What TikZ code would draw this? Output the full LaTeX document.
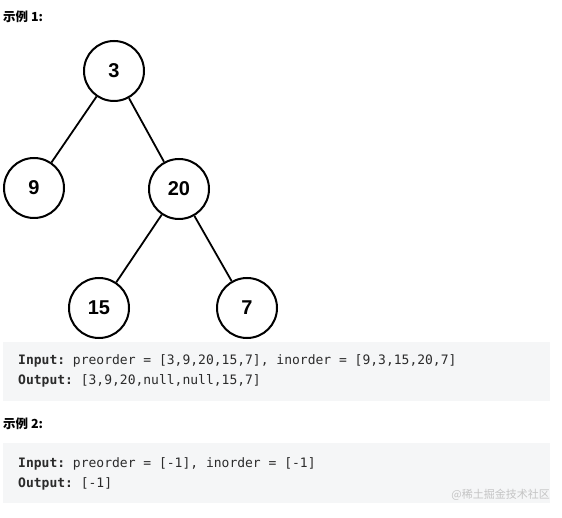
\documentclass[tikz,border=0pt]{standalone}
\usepackage{fontspec}
\setmainfont{Liberation Sans}
\setmonofont{DejaVu Sans Mono}
\newfontfamily\cjk{Noto Sans CJK SC}
\usetikzlibrary{positioning}
\definecolor{codebg}{HTML}{F5F6F7}
\definecolor{codetxt}{HTML}{2B2B2B}
\definecolor{wmark}{HTML}{C4C4C4}
\newcommand{\IOline}[2]{\textbf{#1:} #2}

\begin{document}
\begin{tikzpicture}[x=1pt,y=-1pt,
    treenode/.style={draw,circle,line width=2pt,minimum size=60pt,inner sep=0pt,
      font=\fontsize{20}{24}\selectfont\bfseries},
    treeedge/.style={line width=1.8pt},
    caption/.style={anchor=west,inner sep=0pt,font=\cjk\fontsize{12.5}{15}\selectfont\bfseries},
    codeline/.style={anchor=west,inner sep=0pt,text=codetxt,font=\ttfamily\fontsize{13}{15}\selectfont}]
  \fill[white] (0,0) rectangle (562,518);
  \useasboundingbox (0,0) rectangle (562,518);
  % example 1
  \node[caption] (cap1) at (3,17){示例 1:};
  \node[treenode] (n3) at (114,71){3};
  \node[treenode] (n9) at (34,188){9};
  \node[treenode] (n20) at (179,189){20};
  \node[treenode] (n15) at (99,308){15};
  \node[treenode] (n7) at (247,308){7};
  \draw[treeedge] (n3)--(n9);
  \draw[treeedge] (n3)--(n20);
  \draw[treeedge] (n20)--(n15);
  \draw[treeedge] (n20)--(n7);
  \fill[codebg] (3,342) rectangle (550,401);
  \node[codeline] (in1) at (18,361){\IOline{Input}{preorder = [3,9,20,15,7], inorder = [9,3,15,20,7]}};
  \node[codeline] (out1) at (18,381){\IOline{Output}{[3,9,20,null,null,15,7]}};
  % example 2
  \node[caption] (cap2) at (3,424){示例 2:};
  \fill[codebg] (3,443) rectangle (550,503);
  \node[codeline] (in2) at (18,464){\IOline{Input}{preorder = [-1], inorder = [-1]}};
  \node[codeline] (out2) at (18,484){\IOline{Output}{[-1]}};
  \node[anchor=east,inner sep=0pt,text=wmark,font=\cjk\fontsize{11}{13}\selectfont] (wm) at (550,495){@稀土掘金技术社区};
\end{tikzpicture}
\end{document}
